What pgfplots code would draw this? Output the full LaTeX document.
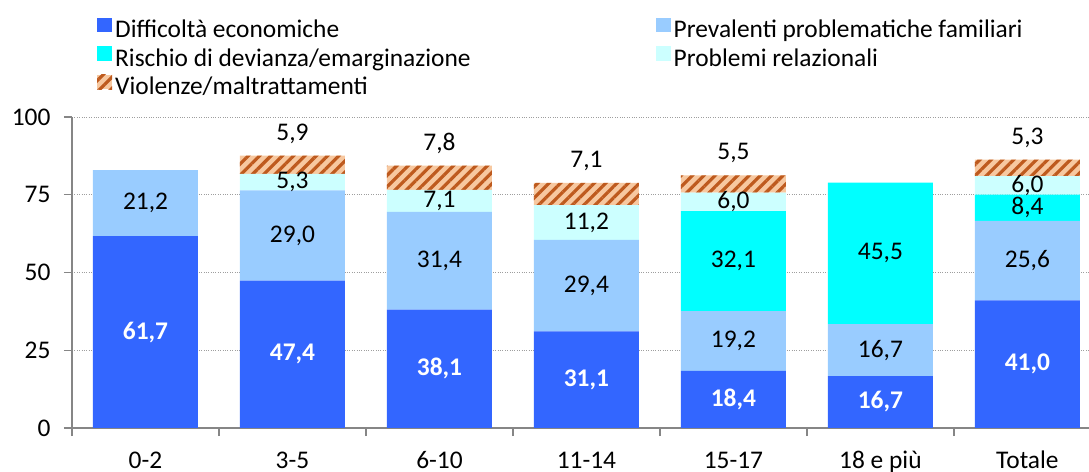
\documentclass[border=0pt]{standalone}
\usepackage{pgfplots}
\pgfplotsset{compat=1.18}
\usepackage{pgfplotstable}
\usepackage{fontspec}
\setmainfont{Carlito}
\usetikzlibrary{patterns.meta}
\definecolor{cDiff}{HTML}{3366FF}
\definecolor{cPrev}{HTML}{99CCFF}
\definecolor{cRisc}{HTML}{00FFFF}
\definecolor{cRel}{HTML}{CCFFFF}
\definecolor{cViolBg}{HTML}{F7C8A0}
\definecolor{cViolLn}{HTML}{BE5A1E}
\definecolor{cAxis}{HTML}{868686}
\newcommand{\lblfont}{\fontsize{25.5}{30}\selectfont}
\pgfplotstableread{
x diff prev risc rel viol
0 61.7 21.2 0 0 0
1 47.4 29.0 0 5.3 5.9
2 38.1 31.4 0 7.1 7.8
3 31.1 29.4 0 11.2 7.1
4 18.4 19.2 32.1 6.0 5.5
5 16.7 16.7 45.5 0 0
6 41.0 25.6 8.4 6.0 5.3
}\datatable
\begin{document}
\begin{tikzpicture}
\begin{axis}[
  at={(72bp,44bp)}, anchor=south west,
  scale only axis, width=1029bp, height=311bp,
  xmin=-0.5, xmax=6.5, ymin=0, ymax=100,
  ybar stacked, bar width=105bp,
  legend image code/.code={\path[#1,draw=none] (0bp,0bp) rectangle (15bp,14.5bp);},
  axis x line*=bottom, axis y line*=left,
  axis line style={cAxis, line width=1.2bp},
  tick style={cAxis, line width=1.2bp},
  tick align=outside, major tick length=8bp,
  xtick={-0.5,0.5,...,6.5},
  xticklabels={0-2,3-5,6-10,11-14,15-17,18 e più,Totale,{}},
  xticklabel style={anchor=base, xshift=73.5bp, yshift=-32bp},
  ytick={0,25,50,75,100},
  yticklabel style={xshift=-10bp},
  ticklabel style={font=\lblfont},
  /pgf/number format/assume math mode=true,
  ymajorgrids, grid style={dotted, cAxis!80, line width=0.8bp},
  visualization depends on=rawy \as \rawy,
  nodes near coords={\ifdim\rawy pt>0pt\pgfmathprintnumber[fixed,fixed zerofill,precision=1,use comma]{\rawy}\fi},
  every node near coord/.append style={anchor=center, font=\lblfont, text=black},
  legend columns=2,
  legend style={at={(0.02138,1.3258)}, anchor=north west, draw=none, fill=none,
    font=\lblfont, row sep=0pt,
    nodes={inner xsep=3bp, inner ysep=3.75bp, text height=15.5bp, text depth=5bp},
    /tikz/every even column/.append style={column sep=182bp}},
  legend cell align=left,
]
\addplot[fill=cDiff, draw=none, every node near coord/.append style={text=white, font=\lblfont\bfseries}] table[x=x,y=diff]{\datatable};
\addlegendentry{Difficoltà economiche}
\addplot[fill=cPrev, draw=none] table[x=x,y=prev]{\datatable};
\addlegendentry{Prevalenti problematiche familiari}
\addplot[fill=cRisc, draw=none] table[x=x,y=risc]{\datatable};
\addlegendentry{Rischio di devianza/emarginazione}
\addplot[fill=cRel, draw=none] table[x=x,y=rel]{\datatable};
\addlegendentry{Problemi relazionali}
\addplot[fill=cViolBg, draw=none, postaction={pattern={Lines[angle=45,distance=8bp,line width=3.2bp]}, pattern color=cViolLn}, every node near coord/.append style={yshift=22bp+\rawy*1.555bp}] table[x=x,y=viol]{\datatable};
\addlegendentry{Violenze/maltrattamenti}
\end{axis}
\pgfresetboundingbox
\path[use as bounding box] (0,0) rectangle (1089bp,472bp);
\end{tikzpicture}
\end{document}
